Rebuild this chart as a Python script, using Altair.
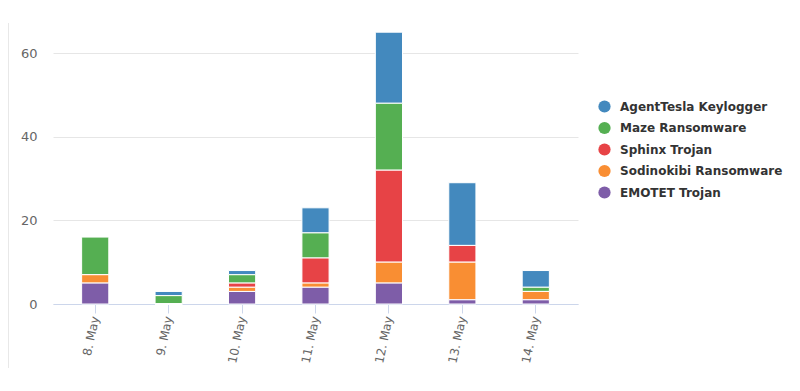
import altair as alt
import pandas as pd

dates = ["8. May", "9. May", "10. May", "11. May", "12. May", "13. May", "14. May"]
series_names = ["AgentTesla Keylogger", "Maze Ransomware", "Sphinx Trojan",
                "Sodinokibi Ransomware", "EMOTET Trojan"]
colors = ["#4389be", "#55af52", "#e74346", "#f98e33", "#7e5da8"]

agenttesla = [0, 1, 1, 6, 17, 15, 4]
maze = [9, 2, 2, 6, 16, 0, 1]
sphinx = [0, 0, 1, 6, 22, 4, 0]
sodinokibi = [2, 0, 1, 1, 5, 9, 2]
emotet = [5, 0, 3, 4, 5, 1, 1]

values = [agenttesla, maze, sphinx, sodinokibi, emotet]
rows = []
for si, (name, vals) in enumerate(zip(series_names, values)):
    for d, v in zip(dates, vals):
        rows.append({"date": d, "series": name, "count": v, "stack": len(series_names) - si})
df = pd.DataFrame(rows)

font = "DejaVu Sans"

bars = alt.Chart(df).mark_bar(stroke="white", strokeWidth=1).encode(
    x=alt.X("date:N", sort=dates, title=None,
            scale=alt.Scale(paddingInner=0.63, paddingOuter=0.39),
            axis=alt.Axis(labelAngle=282, labelAlign="right", labelBaseline="middle",
                          labelColor="#666666", labelFontSize=12, labelFont=font,
                          tickColor="#ccd6eb", tickSize=9, domainColor="#ccd6eb",
                          labelPadding=3, grid=False)),
    y=alt.Y("sum(count):Q", title=None,
            scale=alt.Scale(domain=[0, 66], nice=False),
            axis=alt.Axis(values=[0, 20, 40, 60], labelColor="#666666", labelFontSize=13,
                          labelFont=font, tickSize=0, domain=False, labelPadding=16,
                          gridColor="#e6e6e6", gridWidth=1)),
    color=alt.Color("series:N", scale=alt.Scale(domain=series_names, range=colors),
                    legend=alt.Legend(title=None, orient="none", legendX=545, legendY=72,
                                      symbolType="circle", symbolSize=150,
                                      symbolStrokeWidth=0, labelFontSize=12,
                                      labelFont=font, labelFontWeight="bold",
                                      labelColor="#333333", rowPadding=8.5,
                                      labelOffset=9, labelLimit=300)),
    order=alt.Order("stack:Q", sort="ascending"),
)

border = alt.Chart(df).mark_rule(color="#e8e8e8", strokeWidth=1).encode(
    x=alt.value(-45), y=alt.value(-5), y2=alt.value(340)
)

chart = alt.layer(border, bars).properties(
    width=525, height=276,
    autosize=alt.AutoSizeParams(type="none"),
    padding={"left": 45, "top": 20, "right": 214, "bottom": 79},
).configure_view(stroke=None)

chart.save("out.html", embed_options={"renderer": "svg", "actions": False})
